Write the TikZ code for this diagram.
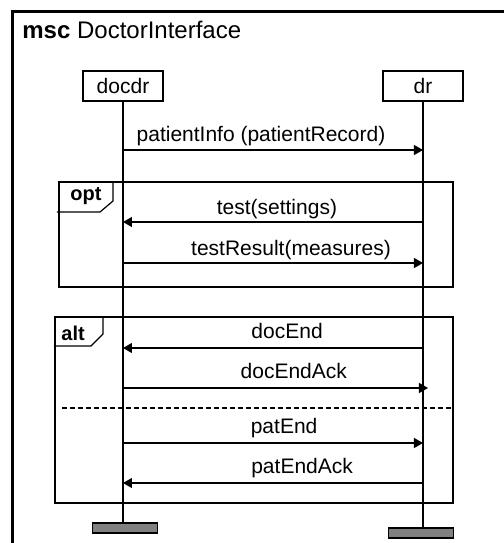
\documentclass[tikz,border=0pt]{standalone}
\usepackage{fontspec}
\setmainfont{Liberation Sans}
\usepackage{tikz}
\usetikzlibrary{arrows.meta}

\tikzset{
	head/.style={draw, line width=0.6pt, minimum width=40pt, minimum height=15pt, inner sep=0pt},
	stopbox/.style={draw, fill=gray, line width=0.6pt, minimum width=32.5pt, minimum height=5pt, inner sep=0pt},
	msg/.style={line width=0.6pt, -{Triangle[length=4.5pt, width=5pt]}},
	lbl/.style={anchor=south, inner sep=0pt, text height=7.5pt, text depth=3.5pt},
	inl/.style={draw, line width=0.6pt},
	kw/.style={anchor=base west, inner sep=0pt, font=\fontsize{10}{12}\selectfont\bfseries},
}

\begin{document}
\begin{tikzpicture}[x=0.5pt, y=-0.5pt, font=\fontsize{10.5}{12.5}\selectfont]
		
		\useasboundingbox (0,0) rectangle (504,543);
		\clip (0,0) rectangle (504,543);
		
		% ????
		\draw[line width=1.5pt] (13,560) -- (13,11) -- (520,11);
		\node[anchor=base west, inner sep=0pt, font=\fontsize{12}{14}\selectfont] (title) at (22,38) {\textbf{msc} DoctorInterface};
		
		% ??
		\node[head] (docdr) at (123,86) {docdr};
		\node[head] (dr) at (423,86) {dr};
		\node[stopbox] (docdrEnd) at (125,528) {};
		\node[stopbox] (drEnd) at (421,533) {};
		\draw[line width=0.7pt] (docdr.south) -- (docdr.south |- docdrEnd.north);
		\draw[line width=0.7pt] (dr.south) -- (dr.south |- drEnd.north);
		
		% opt
		\draw[inl] (59,182) rectangle (453,287);
		\draw[inl] (113,182) -- (113,201) -- (100,212) -- (57,212);
		\node[kw] (opt) at (70,200) {opt};
		
		% alt
		\draw[inl] (55,317) rectangle (453,503);
		\draw[inl] (103,317) -- (103,334) -- (91,346) -- (54,346);
		\node[kw] (alt) at (61,340) {alt};
		\draw[line width=0.6pt, dash pattern=on 2.5pt off 1.5pt] (62,408) -- (453,408);
		
		% ????
		\coordinate (docdr-1) at (123,150); \coordinate (dr-1) at (423,150);
		\coordinate (docdr-2) at (123,222); \coordinate (dr-2) at (423,222);
		\coordinate (docdr-3) at (123,263); \coordinate (dr-3) at (423,263);
		\coordinate (docdr-4) at (123,348); \coordinate (dr-4) at (423,348);
		\coordinate (docdr-5) at (123,388); \coordinate (dr-5) at (428,388);
		\coordinate (docdr-6) at (123,443); \coordinate (dr-6) at (423,443);
		\coordinate (docdr-7) at (123,483); \coordinate (dr-7) at (423,483);
		
		\begin{scope}[msg]
			\draw (docdr-1) -- node[lbl, pos=0.46, yshift=0.5pt] {patientInfo (patientRecord)} (dr-1);
			\draw (dr-2) -- node[lbl, pos=0.487] {test(settings)} (docdr-2);
			\draw (docdr-3) -- node[lbl, pos=0.56] {testResult(measures)} (dr-3);
			\draw (dr-4) -- node[lbl, pos=0.453, yshift=1pt] {docEnd} (docdr-4);
			\draw (docdr-5) -- node[lbl, pos=0.56, yshift=1pt] {docEndAck} (dr-5);
			\draw (docdr-6) -- node[lbl, pos=0.537, yshift=1pt] {patEnd} (dr-6);
			\draw (dr-7) -- node[lbl, pos=0.403, yshift=1pt] {patEndAck} (docdr-7);
		\end{scope}
		
	\end{tikzpicture}
\end{document}
